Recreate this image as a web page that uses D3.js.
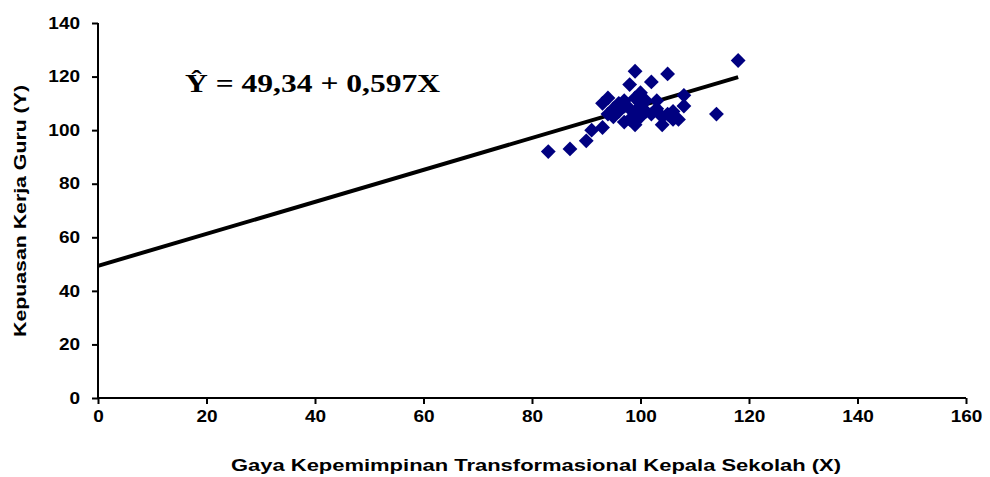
<!DOCTYPE html>
<html>
<head>
<meta charset="utf-8">
<script src="https://cdn.jsdelivr.net/npm/d3@7"></script>
<style>
  body { margin: 0; background: #fff; }
</style>
</head>
<body>
<script>
let width = 990, height = 477;

// data
let xValues = [83, 87, 90, 91, 93, 93, 94, 94, 95, 96, 96, 97, 97, 98, 98, 98, 99, 99, 99, 99,
               100, 100, 100, 101, 101, 102, 102, 103, 103, 104, 104, 105, 105, 106, 106, 107, 108, 108, 114, 118, 95, 97];
let yValues = [92, 93, 96, 100, 101, 110, 112, 106, 108, 110, 107, 103, 109, 104, 117, 108, 122, 102, 107, 112,
               114, 105, 110, 107, 111, 118, 106, 111, 108, 102, 105, 121, 106, 107, 104, 104, 109, 113, 106, 126, 105, 111];
let intercept = 49.34, slope = 0.597;
let xTicks = [0, 20, 40, 60, 80, 100, 120, 140, 160];
let yTicks = [0, 20, 40, 60, 80, 100, 120, 140];

let margin = {left: 98, right: 24, top: 23, bottom: 79};
let sans = "Liberation Sans, Arial, sans-serif";

let svg = d3.select("body").append("svg")
    .attr("width", width)
    .attr("height", height);

let x = d3.scaleLinear().domain([0, 160]).range([margin.left, width - margin.right]);
let y = d3.scaleLinear().domain([0, 140]).range([height - margin.bottom, margin.top]);

// stretch text along its baseline, like the original (wide) lettering
function widen(sel, factor, target) {
  sel.each(function() {
    let len = this.getComputedTextLength();
    d3.select(this)
      .attr("textLength", target || len * factor)
      .attr("lengthAdjust", "spacingAndGlyphs");
  });
}

// regression line
let lineX = [0, d3.max(xValues)];
svg.append("line")
    .attr("x1", x(lineX[0])).attr("y1", y(intercept + slope * lineX[0]))
    .attr("x2", x(lineX[1])).attr("y2", y(intercept + slope * lineX[1]))
    .attr("stroke", "#000").attr("stroke-width", 4);

// points
let diamond = d3.symbol().type(d3.symbolSquare).size(110);
svg.append("g")
  .selectAll("path")
    .data(d3.zip(xValues, yValues))
  .enter().append("path")
    .attr("d", diamond)
    .attr("transform", d => `translate(${x(d[0])},${y(d[1])}) rotate(45)`)
    .attr("fill", "#000080");

let xAxis = svg.append("g")
    .attr("transform", `translate(0,${y(0)})`)
    .call(d3.axisBottom(x).tickValues(xTicks).tickSize(6).tickPadding(6));
let yAxis = svg.append("g")
    .attr("transform", `translate(${x(0)},0)`)
    .call(d3.axisLeft(y).tickValues(yTicks).tickSize(6).tickPadding(12));

[xAxis, yAxis].forEach(g => {
  g.selectAll("path, line").attr("stroke", "#000").attr("stroke-width", 2);
  g.selectAll("text")
    .attr("font-size", 16.5)
    .attr("font-family", sans)
    .attr("font-weight", "bold")
    .attr("fill", "#000")
    .call(widen, 1.15);
});
xAxis.select(".domain").attr("d", `M${x(0)},0H${x(160)}`);
yAxis.select(".domain").attr("d", `M0,${y(0)}V${y(140)}`);

// axis titles
svg.append("text")
    .attr("x", 536).attr("y", 471)
    .attr("text-anchor", "middle")
    .attr("font-family", sans).attr("font-weight", "bold").attr("font-size", 16)
    .text("Gaya Kepemimpinan Transformasional Kepala Sekolah (X)")
    .call(widen, 1, 610);
svg.append("text")
    .attr("transform", `translate(26,211) rotate(-90)`)
    .attr("text-anchor", "middle")
    .attr("font-family", sans).attr("font-weight", "bold").attr("font-size", 16.5)
    .text("Kepuasan Kerja Guru (Y)")
    .call(widen, 1, 252);

// equation
svg.append("text")
    .attr("x", 185).attr("y", 92)
    .attr("font-family", "Liberation Serif, Times New Roman, serif")
    .attr("font-weight", "bold")
    .attr("font-size", 25)
    .text("Ŷ = 49,34 + 0,597X")
    .call(widen, 1, 255);
</script>
</body>
</html>
